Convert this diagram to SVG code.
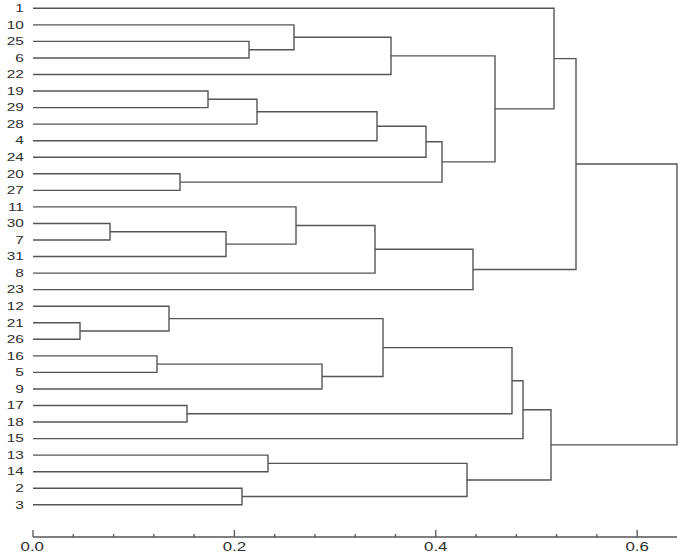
<svg xmlns="http://www.w3.org/2000/svg" width="685" height="555" viewBox="0 0 685 555">
<style>
.br{fill:none;stroke:#555;stroke-width:1.4;stroke-linejoin:miter}
.ax{fill:none;stroke:#555;stroke-width:1.3}
.lb{font-family:"Liberation Sans",Arial,sans-serif;font-size:11px;fill:#2e2e2e;text-anchor:end}
.tl{font-family:"Liberation Sans",Arial,sans-serif;font-size:12.5px;fill:#2e2e2e;text-anchor:middle}
</style>
<rect width="685" height="555" fill="#fff"/>
<g id="connectors" class="br">
<path d="M33 41.4 H249 V57.95 H33"/>
<path d="M33 24.85 H294 V49.7 H249"/>
<path d="M294 37.3 H391 V74.5 H33"/>
<path d="M33 91.05 H208 V107.6 H33"/>
<path d="M208 99.3 H257 V124.15 H33"/>
<path d="M257 111.7 H377 V140.7 H33"/>
<path d="M377 126.2 H426 V157.25 H33"/>
<path d="M33 173.8 H180 V190.35 H33"/>
<path d="M426 141.7 H442 V182.1 H180"/>
<path d="M391 55.9 H495 V161.9 H442"/>
<path d="M33 8.3 H554 V108.9 H495"/>
<path d="M33 223.45 H110 V240 H33"/>
<path d="M110 231.7 H226 V256.55 H33"/>
<path d="M33 206.9 H296 V244.1 H226"/>
<path d="M296 225.5 H375 V273.1 H33"/>
<path d="M375 249.3 H473 V289.65 H33"/>
<path d="M554 58.6 H576 V269.5 H473"/>
<path d="M33 322.75 H80 V339.3 H33"/>
<path d="M33 306.2 H169 V331 H80"/>
<path d="M33 355.85 H157 V372.4 H33"/>
<path d="M157 364.1 H322 V388.95 H33"/>
<path d="M169 318.6 H383 V376.5 H322"/>
<path d="M33 405.5 H187 V422.05 H33"/>
<path d="M383 347.6 H512 V413.8 H187"/>
<path d="M512 380.7 H523 V438.6 H33"/>
<path d="M33 455.15 H268 V471.7 H33"/>
<path d="M33 488.25 H242 V504.8 H33"/>
<path d="M268 463.4 H467 V496.5 H242"/>
<path d="M523 409.7 H551 V480 H467"/>
<path d="M576 164 H677 V444.9 H551"/>
</g>
<g id="leaves" transform="scale(1.4 1)">
<g id="leaf-1"><text class="lb" x="17.1" y="12.1">1</text></g>
<g id="leaf-10"><text class="lb" x="17.1" y="28.65">10</text></g>
<g id="leaf-25"><text class="lb" x="17.1" y="45.2">25</text></g>
<g id="leaf-6"><text class="lb" x="17.1" y="61.75">6</text></g>
<g id="leaf-22"><text class="lb" x="17.1" y="78.3">22</text></g>
<g id="leaf-19"><text class="lb" x="17.1" y="94.85">19</text></g>
<g id="leaf-29"><text class="lb" x="17.1" y="111.4">29</text></g>
<g id="leaf-28"><text class="lb" x="17.1" y="127.95">28</text></g>
<g id="leaf-4"><text class="lb" x="17.1" y="144.5">4</text></g>
<g id="leaf-24"><text class="lb" x="17.1" y="161.05">24</text></g>
<g id="leaf-20"><text class="lb" x="17.1" y="177.6">20</text></g>
<g id="leaf-27"><text class="lb" x="17.1" y="194.15">27</text></g>
<g id="leaf-11"><text class="lb" x="17.1" y="210.7">11</text></g>
<g id="leaf-30"><text class="lb" x="17.1" y="227.25">30</text></g>
<g id="leaf-7"><text class="lb" x="17.1" y="243.8">7</text></g>
<g id="leaf-31"><text class="lb" x="17.1" y="260.35">31</text></g>
<g id="leaf-8"><text class="lb" x="17.1" y="276.9">8</text></g>
<g id="leaf-23"><text class="lb" x="17.1" y="293.45">23</text></g>
<g id="leaf-12"><text class="lb" x="17.1" y="310">12</text></g>
<g id="leaf-21"><text class="lb" x="17.1" y="326.55">21</text></g>
<g id="leaf-26"><text class="lb" x="17.1" y="343.1">26</text></g>
<g id="leaf-16"><text class="lb" x="17.1" y="359.65">16</text></g>
<g id="leaf-5"><text class="lb" x="17.1" y="376.2">5</text></g>
<g id="leaf-9"><text class="lb" x="17.1" y="392.75">9</text></g>
<g id="leaf-17"><text class="lb" x="17.1" y="409.3">17</text></g>
<g id="leaf-18"><text class="lb" x="17.1" y="425.85">18</text></g>
<g id="leaf-15"><text class="lb" x="17.1" y="442.4">15</text></g>
<g id="leaf-13"><text class="lb" x="17.1" y="458.95">13</text></g>
<g id="leaf-14"><text class="lb" x="17.1" y="475.5">14</text></g>
<g id="leaf-2"><text class="lb" x="17.1" y="492.05">2</text></g>
<g id="leaf-3"><text class="lb" x="17.1" y="508.6">3</text></g>
</g>
<g id="axis">
<path class="ax" d="M33 537 H677 M33 537 V530 M234.4 537 V530 M435.8 537 V530 M637.2 537 V530 M73.3 537 V534 M113.6 537 V534 M153.8 537 V534 M194.1 537 V534 M274.7 537 V534 M315 537 V534 M355.2 537 V534 M395.5 537 V534 M476.1 537 V534 M516.4 537 V534 M556.6 537 V534 M596.9 537 V534"/>
<g transform="scale(1.35 1)">
<text class="tl" x="23.9" y="551">0.0</text>
<text class="tl" x="173.6" y="551">0.2</text>
<text class="tl" x="322.8" y="551">0.4</text>
<text class="tl" x="472" y="551">0.6</text>
</g>
</g>
</svg>
